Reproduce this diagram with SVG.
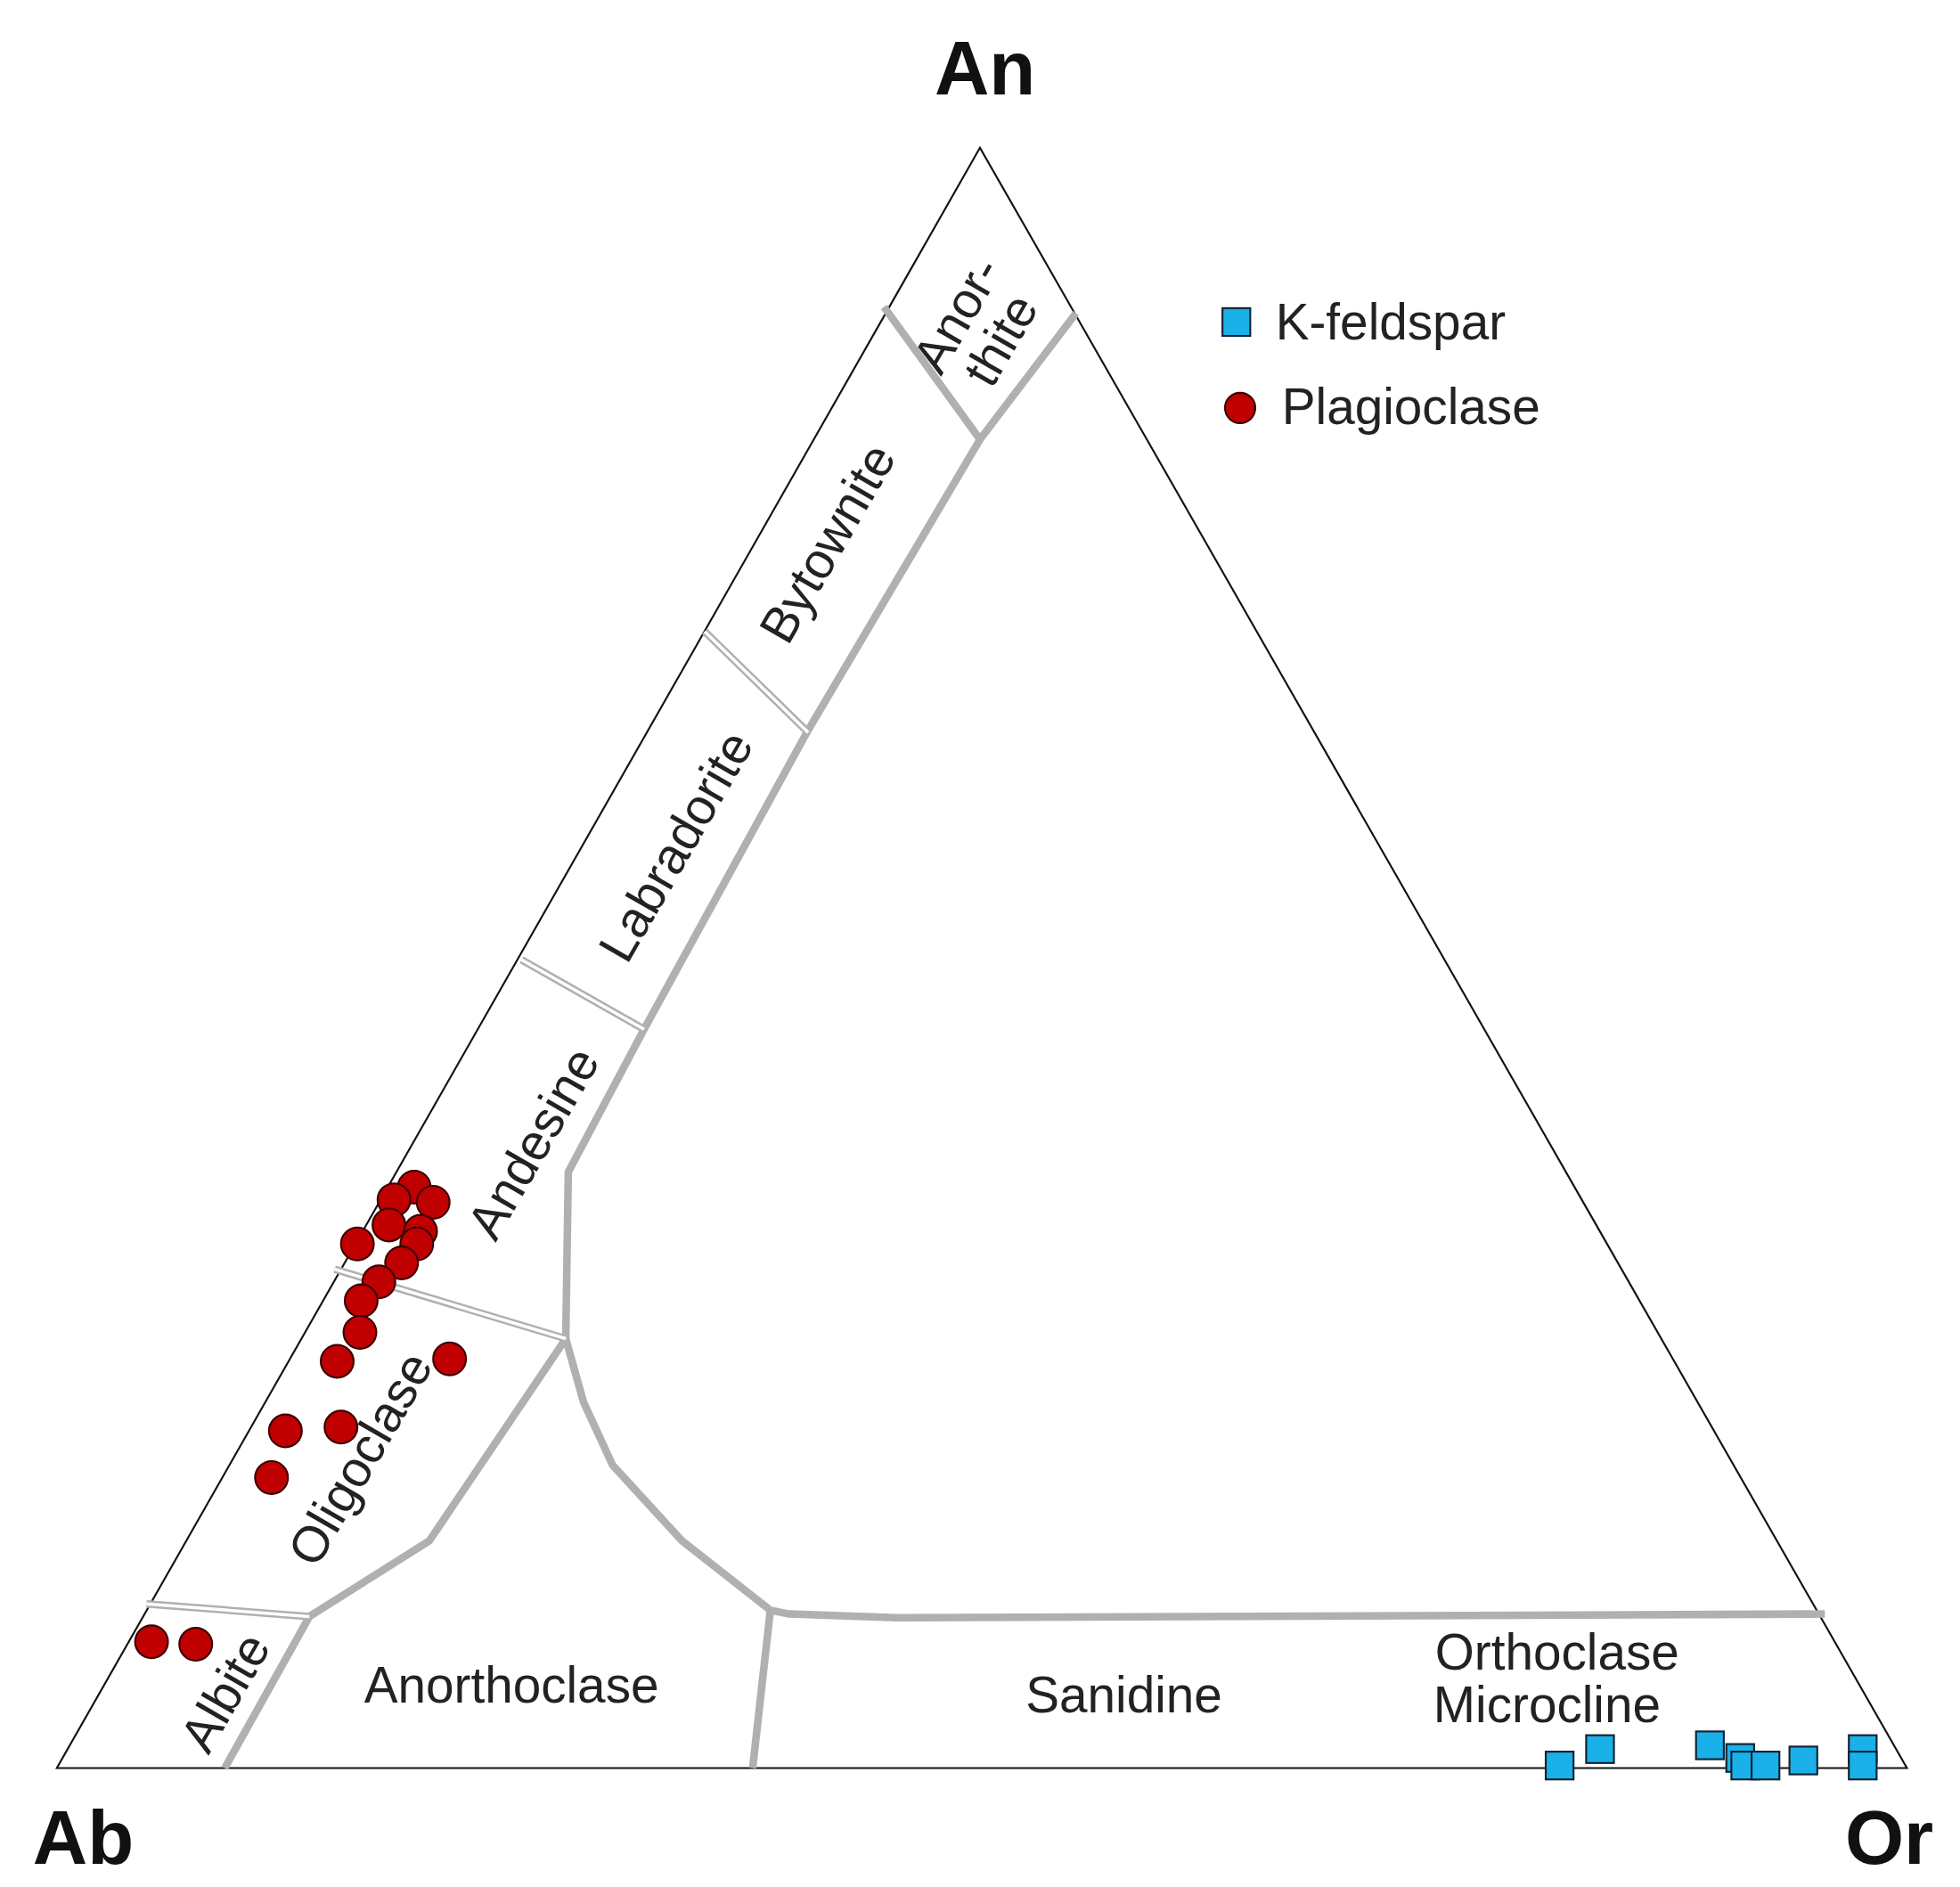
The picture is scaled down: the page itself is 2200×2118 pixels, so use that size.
<svg xmlns="http://www.w3.org/2000/svg" width="2200" height="2118" viewBox="0 0 2200 2118">
<style>
.t{font-family:"Liberation Sans",Arial,sans-serif;font-size:40px;fill:#222;text-anchor:middle}
.b{font-family:"Liberation Sans",Arial,sans-serif;font-size:60px;font-weight:bold;fill:#111;text-anchor:middle}
.g{fill:none;stroke:#b0b0b0;stroke-width:6;stroke-linejoin:round}
.d1{stroke:#b0b0b0;stroke-width:6;fill:none}
.d2{stroke:#fff;stroke-width:2.5;fill:none}
.p{fill:#c00000;stroke:#3a0000;stroke-width:1.5}
.k{fill:#1ab0e8;stroke:#123;stroke-width:1.5}
</style>
<rect width="2200" height="2118" fill="#fff"/>
<g transform="scale(1.4175)">
<g id="frame"><polygon points="776,117 45,1400 1510,1400" fill="none" stroke="#111" stroke-width="1.5"/></g>
<g id="connectors">
<polyline class="g" points="700,243 776,348 852,248"/>
<polyline class="g" points="776,348 640,578 510,815 450,928 448,1060"/>
<polyline class="g" points="448,1060 340,1220 245,1280 178,1400"/>
<polyline class="g" points="448,1060 462,1110 485,1160 540,1220 610,1275 625,1278 710,1281 1445,1278"/>
<polyline class="g" points="610,1275 596,1400"/>
<g>
<line class="d1" x1="558" y1="500" x2="640" y2="580"/><line class="d2" x1="558" y1="500" x2="640" y2="580"/>
<line class="d1" x1="413" y1="760" x2="510" y2="815"/><line class="d2" x1="413" y1="760" x2="510" y2="815"/>
<line class="d1" x1="265" y1="1005" x2="448" y2="1060"/><line class="d2" x1="265" y1="1005" x2="448" y2="1060"/>
<line class="d1" x1="116" y1="1270" x2="245" y2="1280"/><line class="d2" x1="116" y1="1270" x2="245" y2="1280"/>
</g>
</g>
<g id="labels">
<text class="b" x="780" y="75">An</text>
<text class="b" x="66" y="1476">Ab</text>
<text class="b" x="1496" y="1476">Or</text>
<g transform="rotate(-60 780 262)"><text class="t" x="780" y="250">Anor-</text><text class="t" x="780" y="290">thite</text></g>
<text class="t" transform="rotate(-60 655 430)" x="655" y="444">Bytownite</text>
<text class="t" transform="rotate(-60 535 670)" x="535" y="684">Labradorite</text>
<text class="t" transform="rotate(-60 422 905)" x="422" y="919">Andesine</text>
<text class="t" transform="rotate(-60 285 1155)" x="285" y="1169">Oligoclase</text>
<text class="t" transform="rotate(-60 178 1340)" x="178" y="1354">Albite</text>
<text class="t" x="405" y="1348">Anorthoclase</text>
<text class="t" x="890" y="1356">Sanidine</text>
<text class="t" x="1233" y="1322">Orthoclase</text>
<text class="t" x="1225" y="1364">Microcline</text>
</g>
<g id="legend">
<rect class="k" x="968" y="244" width="22" height="22" fill="#1a9ee0"/>
<text class="t" x="1010" y="269" style="text-anchor:start">K-feldspar</text>
<circle class="p" cx="982" cy="323" r="12" fill="#d42020"/>
<text class="t" x="1015" y="336" style="text-anchor:start">Plagioclase</text>
</g>
<g id="plagioclase">
<circle class="p" cx="328" cy="940" r="13"/><circle class="p" cx="312" cy="950" r="13"/><circle class="p" cx="343" cy="952" r="13"/>
<circle class="p" cx="308" cy="970" r="13"/><circle class="p" cx="333" cy="975" r="13"/><circle class="p" cx="330" cy="985" r="13"/>
<circle class="p" cx="283" cy="985" r="13"/><circle class="p" cx="318" cy="1000" r="13"/><circle class="p" cx="300" cy="1015" r="13"/>
<circle class="p" cx="286" cy="1030" r="13"/><circle class="p" cx="285" cy="1055" r="13"/><circle class="p" cx="267" cy="1078" r="13"/>
<circle class="p" cx="356" cy="1076" r="13"/><circle class="p" cx="226" cy="1133" r="13"/><circle class="p" cx="270" cy="1130" r="13"/>
<circle class="p" cx="215" cy="1170" r="13"/><circle class="p" cx="120" cy="1300" r="13"/><circle class="p" cx="155" cy="1302" r="13"/>
</g>
<g id="kfeldspar">
<rect class="k" x="1224" y="1387" width="22" height="22"/><rect class="k" x="1256" y="1374" width="22" height="22"/>
<rect class="k" x="1343" y="1371" width="22" height="22"/><rect class="k" x="1367" y="1381" width="22" height="22"/>
<rect class="k" x="1371" y="1387" width="22" height="22"/><rect class="k" x="1387" y="1387" width="22" height="22"/>
<rect class="k" x="1417" y="1383" width="22" height="22"/><rect class="k" x="1464" y="1374" width="22" height="22"/>
<rect class="k" x="1464" y="1387" width="22" height="22"/>
</g>
</g>
</svg>
